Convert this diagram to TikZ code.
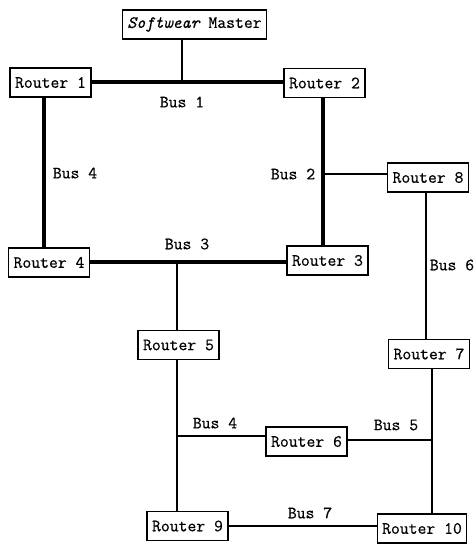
\documentclass[tikz,border=0pt]{standalone}
\usepackage{fontspec}
\setmonofont{Latin Modern Mono}[FakeBold=0.6]
\usepackage{tikz}

\begin{document}
\begin{tikzpicture}[x=1pt,y=-1pt,
  font=\ttfamily\fontsize{17.2}{20}\selectfont,
  rtr/.style={draw,line width=1.2pt,inner xsep=5pt,minimum height=29pt},
  trunk/.style={line width=3.6pt},
  wire/.style={line width=2.6pt},
  tap/.style={line width=1.8pt}]
\useasboundingbox (0,0) rectangle (474,544);
\node[rtr] (sm) at (194.5,24.5) {{\itshape Softwear} Master};
\node[rtr] (r1) at (50.5,82.5) {Router 1};
\node[rtr] (r2) at (324.5,83) {Router 2};
\node[rtr] (r3) at (327.5,260.5) {Router 3};
\node[rtr] (r4) at (49,262.5) {Router 4};
\node[rtr] (r5) at (178.5,345) {Router 5};
\node[rtr] (r6) at (306.5,441.5) {Router 6};
\node[rtr] (r7) at (429,354) {Router 7};
\node[rtr] (r8) at (428,177.5) {Router 8};
\node[rtr] (r9) at (187.5,526) {Router 9};
\node[rtr] (r10) at (422,528.5) {Router 10};
% where the buses branch
\coordinate (b1) at (182,82);
\coordinate (b2) at (323,174);
\coordinate (b3) at (177,262);
\coordinate (b4) at (44,173);
\coordinate (b4l) at (177,436);
\coordinate (b5) at (432,440);
\coordinate (b6) at (426,265);
% the ring
\draw[trunk] (r1.east |- b1) -- (r2.west |- b1);
\draw[tap] (b1) -- (b1 |- sm.south);
\draw[trunk] (b4 |- r1.south) -- (b4 |- r4.north);
\draw[trunk] (b2 |- r2.south) -- (b2 |- r3.north);
\draw[trunk] (r4.east |- b3) -- (r3.west |- b3);
% the rest
\draw[wire] (b2) -- (b2 -| r8.west);
\draw[tap] (b3) -- (b3 |- r5.north);
\draw[tap] (b3 |- r5.south) -- (b3 |- r9.north);
\draw[tap] (b4l) -- (b4l -| r6.west);
\draw[tap] (b6 |- r8.south) -- (b6 |- r7.north);
\draw[tap] (b5 |- r7.south) -- (b5 |- r10.north);
\draw[tap] (b5 -| r6.east) -- (b5);
\draw[wire] (r9.east) -- (r9.east -| r10.west);
% bus names
\node (l1) at (182,102) {Bus 1};
\node (l2) at (293,174) {Bus 2};
\node (l3) at (187,244) {Bus 3};
\node (l4) at (75,173) {Bus 4};
\node (l4b) at (215,423) {Bus 4};
\node (l5) at (396,425) {Bus 5};
\node (l6) at (452,265) {Bus 6};
\node (l7) at (310,513) {Bus 7};
\end{tikzpicture}
\end{document}
